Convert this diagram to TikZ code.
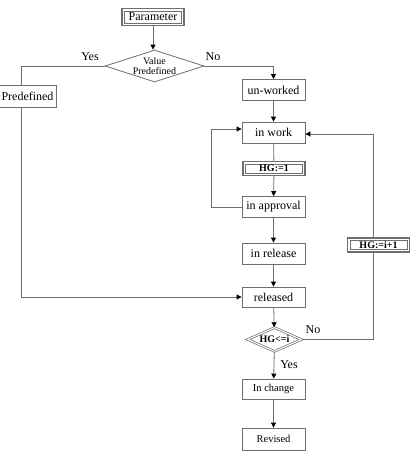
\documentclass[tikz,border=0pt]{standalone}
\usepackage{fontspec}
\setmainfont{Liberation Serif}
\usetikzlibrary{shapes.geometric,arrows.meta}
\definecolor{linegray}{HTML}{6E6E6E}
\begin{document}
\begin{tikzpicture}[x=1pt,y=-1pt,
  line/.style={draw=linegray, line width=0.8pt},
  arr/.style={line, -{Triangle[length=5pt,width=5pt,color=black]}},
  box/.style={draw=linegray, line width=0.8pt, fill=white, minimum width=63pt, minimum height=21pt, inner sep=1pt, font=\fontsize{12}{14}\selectfont},
  smallbox/.style={box, font=\fontsize{10.5}{12}\selectfont},
  dbox/.style={draw=linegray, line width=1.5pt, fill=white, minimum width=62pt, minimum height=14pt, inner sep=0pt, font=\bfseries\fontsize{10}{12}\selectfont,
    path picture={\draw[linegray, line width=0.6pt]
      ([xshift=2.3pt,yshift=2.3pt]path picture bounding box.south west) rectangle
      ([xshift=-2.3pt,yshift=-2.3pt]path picture bounding box.north east);}},
  lbl/.style={font=\fontsize{12}{14}\selectfont, inner sep=0pt}
]
\useasboundingbox (0,0) rectangle (410,453);
\fill[white] (0,0) rectangle (410,453);

\node[dbox, font=\fontsize{12}{14}\selectfont, minimum width=62pt, minimum height=17pt] (param) at (153,17) {Parameter};
\node[diamond, draw=linegray, line width=0.8pt, aspect=3, minimum width=99pt, minimum height=32pt, inner sep=0pt, align=center, font=\fontsize{10}{10.5}\selectfont] (vp) at (154.5,66) {Value\\Predefined};
\node[box, minimum width=57pt, minimum height=22pt] (pre) at (27.5,96) {Predefined};
\node[box] (unw) at (273.5,90) {un-worked};
\node[box] (inwork) at (273.5,132.5) {in work};
\node[dbox] (hg1) at (274,168.5) {HG:=1};
\node[box] (appr) at (273.5,207) {in approval};
\node[box] (rel1) at (273.5,253.5) {in release};
\node[box, minimum height=20pt] (released) at (273.5,297) {released};
\node[diamond, draw=linegray, line width=0.7pt, double, double distance=1.1pt, aspect=2.3, minimum width=54pt, minimum height=24pt, inner sep=0pt, font=\bfseries\fontsize{10}{12}\selectfont] (hgi) at (274.5,339.5) {HG<=i};
\node[smallbox, minimum height=20pt] (change) at (273.5,389) {In change};
\node[smallbox, minimum height=22pt] (revised) at (273.5,439) {Revised};
\node[dbox] (hgi1) at (378.5,245) {HG:=i+1};

\coordinate (yc) at (21,66);
\coordinate (lc) at (211.5,0);
\coordinate (rc) at (373.5,0);

\draw[arr] (param.south) -- (param.south |- vp.north);
\draw[line] (vp.west) -- (yc) -- (yc |- pre.north);
\draw[arr] (yc |- pre.south) |- (released.west);
\draw[arr] (vp.east) -| (unw.north);
\draw[arr] (unw) -- (inwork);
\draw[line] (inwork) -- (hg1);
\draw[arr] (hg1) -- (appr);
\draw[line] (appr.west) -- (lc |- appr.west) -- ([yshift=3.5pt]lc |- inwork.west);
\draw[arr] ([yshift=3.5pt]lc |- inwork.west) -- ([yshift=3.5pt]inwork.west);
\draw[arr] (appr) -- (rel1);
\draw[arr] (rel1) -- (released);
\draw[arr] (released) -- (hgi);
\draw[arr] (hgi) -- (change);
\draw[arr] (change) -- (revised);
\draw[line] (hgi.east) -| (rc |- hgi1.south);
\draw[arr] (rc |- hgi1.north) |- ([yshift=-1.5pt]inwork.east);

\node[lbl] (yes1) at (90,57) {Yes};
\node[lbl] (no1) at (213,57) {No};
\node[lbl] (no2) at (313,330) {No};
\node[lbl] (yes2) at (289,365) {Yes};
\end{tikzpicture}
\end{document}
